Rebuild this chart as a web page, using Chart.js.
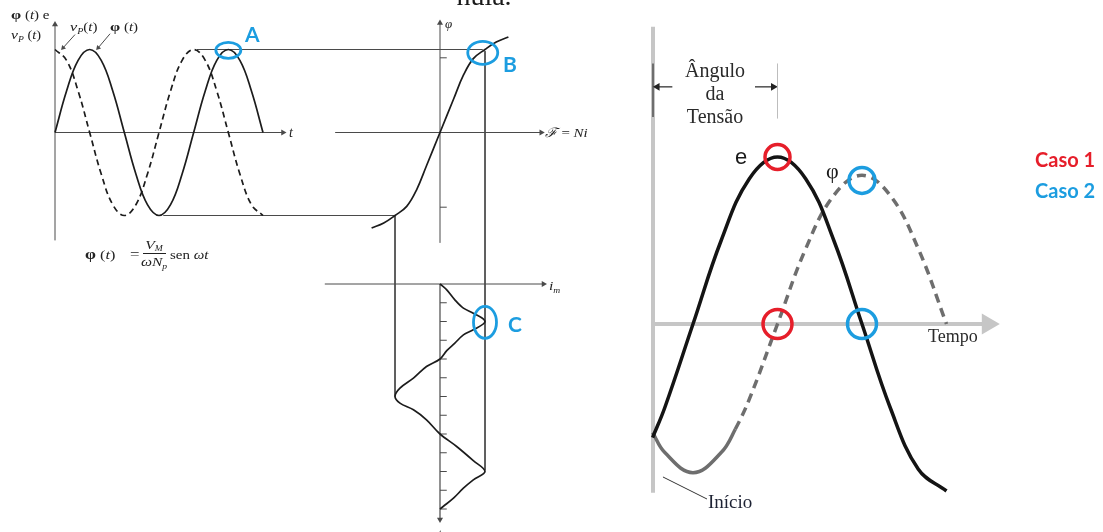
<!DOCTYPE html>
<html lang="pt-BR">
<head>
<meta charset="utf-8">
<title>Fluxo, curva de magnetização e corrente de magnetização</title>
<script src="https://cdn.jsdelivr.net/npm/chart.js@4.4.1/dist/chart.umd.min.js"></script>
<style>
  html, body { margin: 0; padding: 0; background: #fff; }
  #quadro { position: relative; width: 1103px; height: 532px; overflow: hidden; }
  canvas { display: block; }
</style>
</head>
<body>
<div id="quadro"><canvas id="grafico" width="1103" height="532"></canvas></div>
<script>
// Fluxo φ(t) e tensão vp(t) (tempo em graus, valores normalizados pelo pico)
const tempoEsq = [0, 30, 60, 90, 120, 150, 180, 210, 240, 270, 300, 330, 360, 390, 420, 450, 480, 510, 540];
const fluxoEsq = [0, 0.5, 0.87, 1, 0.87, 0.5, 0, -0.5, -0.87, -1, -0.87, -0.5, 0, 0.5, 0.87, 1, 0.87, 0.5, 0];
const tensaoEsq = [1, 0.87, 0.5, 0, -0.5, -0.87, -1, -0.87, -0.5, 0, 0.5, 0.87, 1, 0.87, 0.5, 0, -0.5, -0.87, -1];

// Curva de magnetização: φ em função de ℱ = Ni
const fmmCurva = [-1.52, -1.25, -1.0, -0.74, -0.52, -0.30, 0, 0.30, 0.52, 0.74, 1.0, 1.25, 1.52];
const fluxoCurva = [-1.15, -1.09, -1.0, -0.89, -0.69, -0.40, 0, 0.40, 0.69, 0.89, 1.0, 1.09, 1.15];
const marcasFluxo = [-0.9, 0.9];

// Corrente de magnetização i_m ao longo do tempo (eixo do tempo para baixo)
const tempoIm = [0, 14, 38, 58, 70, 90, 110, 122, 142, 160, 180, 198, 226, 250, 270, 286, 302, 326, 360, 390, 424, 450, 470, 490, 514, 534, 540];
const correnteIm = [0, 0.15, 0.33, 0.52, 0.74, 1.0, 0.74, 0.52, 0.33, 0.15, 0, -0.30, -0.59, -0.89, -1.0, -0.89, -0.59, -0.30, 0, 0.37, 0.74, 1.0, 0.74, 0.52, 0.30, 0.07, 0];
const marcasTempo = [45, 90, 135, 180, 225, 270, 315, 360, 405, 450, 495, 540];

// Lado direito: tensão e e fluxo φ pelo ângulo (graus)
const anguloE = [-43, -30, 0, 30, 60, 90, 120, 150, 180, 210, 240, 270];
const tensaoE = [-0.68, -0.5, 0, 0.5, 0.87, 1, 0.87, 0.5, 0, -0.5, -0.87, -1];
const anguloFluxo = [-43, -30, 0, 30, 45, 60, 90, 120, 150, 180, 210, 240, 270];
const fluxoDir = [-0.65, -0.77, -0.89, -0.77, -0.63, -0.45, 0, 0.45, 0.77, 0.89, 0.77, 0.45, 0];
const caso1 = [[90, 1], [90, 0]];
const caso2 = [[180, 0.86], [180, 0]];

const W = 1103, H = 532;
const PRETO = '#1c1c1c';
const EIXO = '#4a4a4a';
const CINZA = '#c6c6c6';
const AZUL = '#1c9de0';
const VERMELHO = '#e61e2a';
const SERIF = "'Liberation Serif', 'DejaVu Serif', serif";
const SANS = "Lato, 'Open Sans', sans-serif";

// cada painel tem seu par de escalas, todas ocupando a área inteira
function eixoX(origem, escala) {
    return { type: 'linear', display: false, min: -origem / escala, max: (W - origem) / escala };
}
function eixoY(origem, escala, paraBaixo) {
    if (paraBaixo) {
        return { type: 'linear', display: false, reverse: true, min: -origem / escala, max: (H - origem) / escala };
    }
    return { type: 'linear', display: false, min: (origem - H) / escala, max: origem / escala };
}

const L = ['xT', 'yPhi'], M = ['xF', 'yPhi'], I = ['xF', 'yIm'], R = ['xAng', 'yE'];

function pts(xs, ys) {
    return xs.map((x, i) => ({ x: x, y: ys[i] }));
}

function traco(dados, eixos, opc) {
    return Object.assign({
        data: dados, xAxisID: eixos[0], yAxisID: eixos[1],
        showLine: true, pointRadius: 0, borderColor: EIXO, borderWidth: 1,
        tension: 0, fill: false, order: 3
    }, opc || {});
}

// linha com ponta de seta no último ponto
function seta(dados, eixos, cor, largura, ponta, giro, ordem) {
    return traco(dados, eixos, {
        borderColor: cor, borderWidth: largura,
        pointRadius: dados.map((p, i) => i === dados.length - 1 ? ponta : 0),
        pointStyle: 'triangle', pointRotation: giro,
        pointBackgroundColor: cor, pointBorderColor: cor, pointBorderWidth: 0,
        order: ordem === undefined ? 3 : ordem
    });
}

function circulos(lista, eixos, cor, raios) {
    return {
        data: lista.map(p => ({ x: p[0], y: p[1] })),
        xAxisID: eixos[0], yAxisID: eixos[1],
        showLine: false, pointRadius: raios, pointStyle: 'circle',
        pointBackgroundColor: 'rgba(0,0,0,0)', pointBorderColor: cor, pointBorderWidth: 3.5,
        order: 0
    };
}

const datasets = [];

// painel do fluxo no tempo
datasets.push(seta([{ x: 0, y: -1.30 }, { x: 0, y: 1.30 }], L, EIXO, 1, 3.5, 0));
datasets.push(seta([{ x: 0, y: 0 }, { x: 592, y: 0 }], L, EIXO, 1, 3.5, 90));
datasets.push(traco(pts(tempoEsq, fluxoEsq), L, { borderColor: PRETO, borderWidth: 1.7, tension: 0.4, order: 2 }));
datasets.push(traco(pts(tempoEsq, tensaoEsq), L, { borderColor: PRETO, borderWidth: 1.7, tension: 0.4, borderDash: [6, 4], order: 2 }));
datasets.push(seta([{ x: 52, y: 1.18 }, { x: 21, y: 1.02 }], L, EIXO, 1, 3, 222));
datasets.push(seta([{ x: 143, y: 1.19 }, { x: 112, y: 1.02 }], L, EIXO, 1, 3, 222));

// projeções entre os painéis
datasets.push(traco([{ x: -5.4, y: 1 }, { x: 0.95, y: 1 }], M));
datasets.push(traco([{ x: -6.15, y: -1 }, { x: -1, y: -1 }], M));
datasets.push(traco([{ x: 1, y: 0.98 }, { x: 1, y: -4.07 }], M));
datasets.push(traco([{ x: -1, y: -1 }, { x: -1, y: -3.18 }], M));

// curva de magnetização
datasets.push(seta([{ x: 0, y: -1.33 }, { x: 0, y: 1.32 }], M, EIXO, 1, 3.5, 0));
datasets.push(seta([{ x: -2.33, y: 0 }, { x: 2.25, y: 0 }], M, EIXO, 1, 3.5, 90));
marcasFluxo.forEach(v => datasets.push(traco([{ x: 0, y: v }, { x: 0.15, y: v }], M)));
datasets.push(traco(pts(fmmCurva, fluxoCurva), M, { borderColor: PRETO, borderWidth: 1.7, tension: 0.4, order: 2 }));

// corrente de magnetização
datasets.push(seta([{ x: 0, y: 0 }, { x: 0, y: 565 }], I, EIXO, 1.2, 3.5, 180));
datasets.push(seta([{ x: -2.56, y: 0 }, { x: 2.3, y: 0 }], I, EIXO, 1, 3.5, 90));
marcasTempo.forEach(t => datasets.push(traco([{ x: 0, y: t }, { x: 0.15, y: t }], I)));
datasets.push(traco(pts(correnteIm, tempoIm), I, { borderColor: PRETO, borderWidth: 1.7, tension: 0.35, order: 2 }));

// lado direito
datasets.push(traco([{ x: -42.6, y: -1.01 }, { x: -42.6, y: 1.78 }], R, { borderColor: CINZA, borderWidth: 4, order: 5 }));
datasets.push(seta([{ x: -42.6, y: 0 }, { x: 314, y: 0 }], R, CINZA, 4, 12, 90, 5));
datasets.push(traco([{ x: -42.6, y: 1.24 }, { x: -42.6, y: 1.56 }], R, { borderColor: '#333', borderWidth: 1.2 }));
datasets.push(traco([{ x: 90, y: 1.23 }, { x: 90, y: 1.56 }], R, { borderColor: '#bdbdbd', borderWidth: 1 }));
datasets.push(seta([{ x: -22, y: 1.42 }, { x: -38, y: 1.42 }], R, '#222', 1.2, 4.5, 270));
datasets.push(seta([{ x: 66, y: 1.42 }, { x: 85.5, y: 1.42 }], R, '#222', 1.2, 4.5, 90));
datasets.push(traco([{ x: -32, y: -0.916 }, { x: 14.9, y: -1.048 }], R, { borderColor: '#333', borderWidth: 1 }));
datasets.push(traco(pts(anguloFluxo, fluxoDir), R, {
    borderColor: '#6e6e6e', borderWidth: 3.5, tension: 0.4, order: 2,
    segment: { borderDash: c => c.p0DataIndex >= 4 ? [9, 6] : undefined }
}));
datasets.push(traco(pts(anguloE, tensaoE), R, { borderColor: '#141414', borderWidth: 3.5, tension: 0.4, order: 1 }));
datasets.push(circulos(caso1, R, VERMELHO, [12.5, 14.5]));
datasets.push(circulos(caso2, R, AZUL, [13, 14.5]));

// elipses de destaque A, B e C
const elipses = [
    { eixos: L, x: 450, y: 0.99, rx: 12.5, ry: 8 },
    { eixos: M, x: 0.95, y: 0.96, rx: 15, ry: 11.5 },
    { eixos: I, x: 1.0, y: 92, rx: 11.5, ry: 16 }
];

// texto em partes (índices, itálicos); sx estica na horizontal
function escreve(ctx, partes, x, y, alinhar, sx) {
    sx = sx || 1;
    let largura = 0;
    partes.forEach(p => { ctx.font = p[1]; largura += ctx.measureText(p[0]).width; });
    const inicio = alinhar === 'center' ? x - largura * sx / 2 : x;
    ctx.save();
    ctx.translate(inicio, y);
    ctx.scale(sx, 1);
    let cx = 0;
    partes.forEach(p => {
        ctx.font = p[1];
        ctx.fillText(p[0], cx, p[2] || 0);
        cx += ctx.measureText(p[0]).width;
    });
    ctx.restore();
}

const anotacoes = {
    id: 'anotacoes',
    afterDatasetsDraw(chart) {
        const ctx = chart.ctx;
        ctx.save();

        elipses.forEach(e => {
            const px = chart.scales[e.eixos[0]].getPixelForValue(e.x);
            const py = chart.scales[e.eixos[1]].getPixelForValue(e.y);
            ctx.beginPath();
            ctx.ellipse(px, py, e.rx, e.ry, 0, 0, Math.PI * 2);
            ctx.strokeStyle = AZUL;
            ctx.lineWidth = 2.8;
            ctx.stroke();
        });

        ctx.textAlign = 'left';
        ctx.textBaseline = 'alphabetic';
        const it = s => 'italic ' + s + 'px ' + SERIF;
        const rg = s => s + 'px ' + SERIF;
        const bd = s => 'bold ' + s + 'px ' + SERIF;

        ctx.fillStyle = '#1a1a1a';
        escreve(ctx, [['nula.', rg(28)]], 484, 5, 'center');

        ctx.fillStyle = '#222';
        escreve(ctx, [['φ', bd(13)], [' (', rg(12)], ['t', it(12)], [') e', rg(12)]], 11, 19, 'left', 1.25);
        escreve(ctx, [['v', it(13)], ['P', it(8), 3], [' (', rg(12)], ['t', it(12)], [')', rg(12)]], 11, 39, 'left', 1.2);
        escreve(ctx, [['v', it(13)], ['P', it(8), 3], ['(', rg(12)], ['t', it(12)], [')', rg(12)]], 70, 31, 'left', 1.25);
        escreve(ctx, [['φ', bd(13)], [' (', rg(12)], ['t', it(12)], [')', rg(12)]], 110, 31, 'left', 1.25);
        escreve(ctx, [['t', it(14)]], 289, 137);

        // φ(t) = V_M / (ω N_p) sen ωt
        escreve(ctx, [['φ', bd(14)], [' (', rg(13)], ['t', it(13)], [')', rg(13)]], 85, 259, 'left', 1.25);
        escreve(ctx, [['=', rg(14)]], 130, 259, 'left', 1.2);
        escreve(ctx, [['V', it(13)], ['M', it(8), 2]], 154, 249, 'center', 1.2);
        escreve(ctx, [['ωN', it(13)], ['p', it(8), 3]], 154, 266, 'center', 1.2);
        ctx.fillRect(143, 253, 23, 1);
        escreve(ctx, [['sen ', rg(13)], ['ωt', it(13)]], 170, 259, 'left', 1.15);

        escreve(ctx, [['φ', it(13)]], 445, 28);
        escreve(ctx, [['ℱ', it(13)], [' = ', rg(13)], ['Ni', it(13)]], 545, 137, 'left', 1.15);
        escreve(ctx, [['i', it(13)], ['m', it(8), 3]], 549, 290, 'left', 1.2);
        escreve(ctx, [['t', it(13)]], 438, 538);

        ctx.fillStyle = AZUL;
        escreve(ctx, [['A', 'bold 21px ' + SANS]], 245, 42);
        escreve(ctx, [['B', 'bold 21px ' + SANS]], 503, 72);
        escreve(ctx, [['C', 'bold 21px ' + SANS]], 508, 332);

        // textos do lado direito
        ctx.fillStyle = '#2a2a2a';
        escreve(ctx, [['Ângulo', rg(20)]], 715, 77, 'center');
        escreve(ctx, [['da', rg(20)]], 715, 100, 'center');
        escreve(ctx, [['Tensão', rg(20)]], 715, 123, 'center');
        escreve(ctx, [['Tempo', rg(18)]], 928, 342);
        ctx.fillStyle = '#1d2233';
        escreve(ctx, [['Início', rg(19)]], 708, 508);
        ctx.fillStyle = '#1a1a1a';
        escreve(ctx, [['e', "22px 'Liberation Sans', sans-serif"]], 735, 164);
        escreve(ctx, [['φ', rg(22)]], 826, 178);

        ctx.fillStyle = VERMELHO;
        escreve(ctx, [['Caso 1', 'bold 20px ' + SANS]], 1035, 167);
        ctx.fillStyle = AZUL;
        escreve(ctx, [['Caso 2', 'bold 20px ' + SANS]], 1035, 198);

        ctx.restore();
    }
};

new Chart(document.getElementById('grafico'), {
    type: 'scatter',
    data: { datasets: datasets },
    options: {
        responsive: false,
        animation: false,
        events: [],
        layout: { padding: 0, autoPadding: false },
        plugins: { legend: { display: false }, tooltip: { enabled: false } },
        scales: {
            x: { display: false },
            y: { display: false },
            xT: eixoX(55, 208 / 540),
            yPhi: eixoY(132.5, 83),
            xF: eixoX(440, 45),
            yIm: eixoY(284, 150 / 360, true),
            xAng: eixoX(693, 84.5 / 90),
            yE: eixoY(324, 167)
        }
    },
    plugins: [anotacoes]
});
</script>
</body>
</html>
